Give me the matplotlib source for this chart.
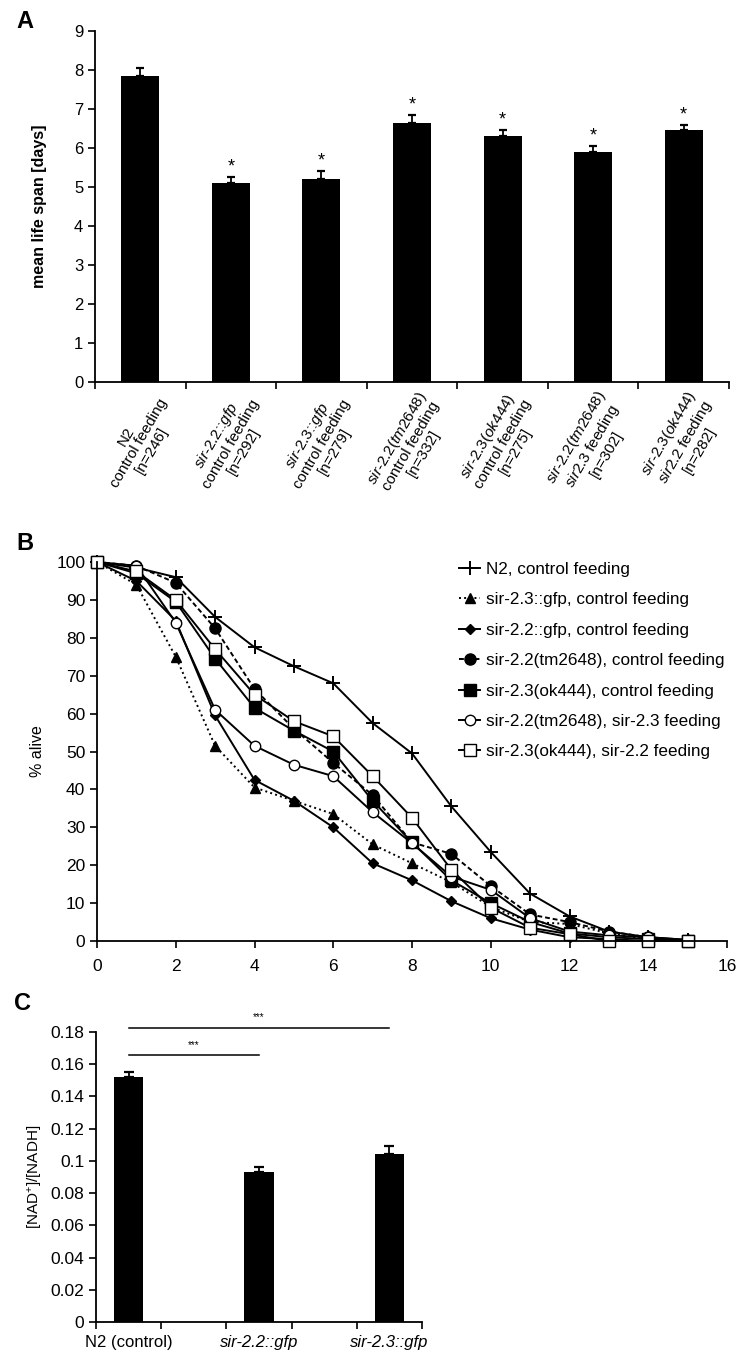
import matplotlib
matplotlib.use("Agg")
import matplotlib.pyplot as plt
import numpy as np

plt.rcParams['font.family'] = ['Liberation Sans', 'DejaVu Sans']
plt.rcParams['mathtext.fontset'] = 'custom'
plt.rcParams['mathtext.rm'] = 'Liberation Sans'
plt.rcParams['mathtext.it'] = 'Liberation Sans:italic'
plt.rcParams['mathtext.bf'] = 'Liberation Sans:bold'

# ---- panel A data ----
a_labels = [
    "N2\ncontrol feeding\n[n=246]",
    "$\\mathit{sir}$-$\\mathit{2.2}$::$\\mathit{gfp}$\ncontrol feeding\n[n=292]",
    "$\\mathit{sir}$-$\\mathit{2.3}$::$\\mathit{gfp}$\ncontrol feeding\n[n=279]",
    "$\\mathit{sir}$-$\\mathit{2.2(tm2648)}$\ncontrol feeding\n[n=332]",
    "$\\mathit{sir}$-$\\mathit{2.3(ok444)}$\ncontrol feeding\n[n=275]",
    "$\\mathit{sir}$-$\\mathit{2.2(tm2648)}$\n$\\mathit{sir2.3}$ feeding\n[n=302]",
    "$\\mathit{sir}$-$\\mathit{2.3(ok444)}$\n$\\mathit{sir2.2}$ feeding\n[n=282]",
]
a_mean = [7.85, 5.1, 5.2, 6.65, 6.3, 5.9, 6.45]
a_err = [0.2, 0.15, 0.2, 0.2, 0.15, 0.15, 0.15]
a_star = [False, True, True, True, True, True, True]

# ---- panel B data ----
days = list(range(16))
n2 = [100, 98.5, 96, 85.5, 77.5, 72.5, 68, 57.5, 49.5, 35.5, 23.5, 12.5, 6.5, 2.5, 1, 0.3]
gfp23 = [100, 94, 75, 51.5, 40.5, 37, 33.5, 25.5, 20.5, 15.5, 9, 5, 4.5, 2, 0.5, 0]
gfp22 = [100, 95, 84.5, 59.5, 42.5, 37, 30, 20.5, 16, 10.5, 6, 3, 1, 0.5, 0, 0]
tm_ctrl = [100, 99, 94.5, 82.5, 66.5, 56, 47, 38.5, 26, 23, 14.5, 7, 5, 2.5, 1, 0]
ok_ctrl = [100, 97, 89.5, 74.5, 61.5, 55.5, 50, 37, 26, 16, 10, 5, 2, 1, 0.5, 0]
tm_fed = [100, 99, 84, 61, 51.5, 46.5, 43.5, 34, 25.8, 17, 13.5, 6, 2.5, 1.5, 1, 0.3]
ok_fed = [100, 97.5, 90, 77, 65, 58, 54, 43.5, 32.5, 18.8, 8.8, 3.5, 1.8, 0, 0, 0]
b_names = ["N2, control feeding", "sir-2.3::gfp, control feeding",
           "sir-2.2::gfp, control feeding", "sir-2.2(tm2648), control feeding",
           "sir-2.3(ok444), control feeding", "sir-2.2(tm2648), sir-2.3 feeding",
           "sir-2.3(ok444), sir-2.2 feeding"]

# ---- panel C data ----
c_labels = ["N2 (control)", "sir-2.2::gfp", "sir-2.3::gfp"]
c_mean = [0.152, 0.093, 0.104]
c_err = [0.003, 0.0035, 0.0055]

W, H = 741, 1355
fig = plt.figure(figsize=(W / 100, H / 100), dpi=100)


def px(l, t, r, b):
    return [l / W, 1 - b / H, (r - l) / W, (b - t) / H]


def clean(a):
    for sp in ['top', 'right']:
        a.spines[sp].set_visible(False)
    for sp in ['left', 'bottom']:
        a.spines[sp].set_linewidth(1.3)


# ================= A =================
ax = fig.add_axes(px(95, 31, 729, 382))
xa = np.arange(len(a_mean)) + 0.5
ax.bar(xa, a_mean, width=0.42, color='black', zorder=2)
ax.errorbar(xa, a_mean, yerr=[np.zeros(len(a_err)), a_err], fmt='none',
            ecolor='black', elinewidth=1.3, capsize=3, capthick=1.6, zorder=3)
for x, m, e, s in zip(xa, a_mean, a_err, a_star):
    if s:
        ax.text(x, m + e + 0.04, "*", ha='center', va='bottom', fontsize=13)
ax.set_xlim(0, len(a_mean))
ax.set_ylim(0, 9)
ax.set_yticks(range(10))
ax.set_xticks(range(len(a_mean) + 1))
ax.set_xticklabels([])
for x, lab in zip(xa, a_labels):
    ax.annotate(lab, xy=(x + 0.26, 0), xycoords=('data', 'axes fraction'),
                xytext=(0, -13), textcoords='offset points',
                rotation=60, ha='right', va='center', rotation_mode='anchor',
                multialignment='center', fontsize=11, linespacing=1.05)
ax.set_ylabel("mean life span [days]", fontsize=11.5, fontweight='bold', labelpad=19)
ax.tick_params(axis='both', labelsize=12, direction='out', length=5, width=1.2)
clean(ax)
fig.text(16 / W, 1 - 22 / H, "A", fontsize=17, fontweight='bold', va='center')

# ================= B =================
bx = fig.add_axes(px(97, 562, 727, 941))
series = [n2, gfp23, gfp22, tm_ctrl, ok_ctrl, tm_fed, ok_fed]
styles = [
    dict(marker='+', ls='-', mfc='black', ms=10, mew=1.4),
    dict(marker='^', ls=':', mfc='black', ms=7),
    dict(marker='D', ls='-', mfc='black', ms=5.5),
    dict(marker='o', ls=(0, (2.5, 1.5)), mfc='black', ms=8),
    dict(marker='s', ls='-', mfc='black', ms=8),
    dict(marker='o', ls='-', mfc='white', ms=7.5),
    dict(marker='s', ls='-', mfc='white', ms=8.5),
]
for ys, name, st in zip(series, b_names, styles):
    bx.plot(days, ys, color='black', mec='black', lw=1.4, label=name,
            clip_on=False, **st)
bx.set_xlim(0, 16)
bx.set_ylim(0, 100)
bx.set_xticks(range(0, 17, 2))
bx.set_yticks(range(0, 101, 10))
bx.set_ylabel("% alive", fontsize=11.5, labelpad=8)
bx.tick_params(axis='both', labelsize=12.5, direction='out', length=5, width=1.2)
bx.tick_params(axis='x', pad=8)
clean(bx)
bx.legend(loc='upper left', bbox_to_anchor=(0.575, 1.0), frameon=False,
          fontsize=12.3, handlelength=1.2, handletextpad=0.35, labelspacing=0.9,
          borderaxespad=0, borderpad=0)
fig.text(16 / W, 1 - 543 / H, "B", fontsize=17, fontweight='bold', va='center')

# ================= C =================
cx = fig.add_axes(px(96, 1032, 422, 1322))
xc = np.array([0.5, 2.5, 4.5])
cx.bar(xc, c_mean, width=0.45, color='black', zorder=2)
cx.errorbar(xc, c_mean, yerr=[np.zeros(3), c_err], fmt='none', ecolor='black',
            elinewidth=1.3, capsize=3.5, capthick=1.6, zorder=3)
cx.set_xlim(0, 5)
cx.set_ylim(0, 0.18)
cx.set_yticks(np.arange(0, 0.181, 0.02))
cx.set_yticklabels(["0", "0.02", "0.04", "0.06", "0.08", "0.1", "0.12",
                    "0.14", "0.16", "0.18"])
cx.set_xticks(range(6))
cx.set_xticklabels([])
for x, lab in zip(xc, c_labels):
    cx.text(x, -0.0125, lab, ha='center', va='center', fontsize=12,
            fontstyle='normal' if lab.startswith("N2") else 'italic')
sig = [(xc[0], xc[1], 0.1655), (xc[0], xc[2], 0.1825)]
for x0, x1, y in sig:
    cx.plot([x0, x1], [y, y], color='black', lw=1.1, clip_on=False)
    cx.text((x0 + x1) / 2, y + 0.0065, "***", ha='center', va='center', fontsize=7)
cx.set_ylabel("[NAD$^{+}$]/[NADH]", fontsize=11, labelpad=4)
cx.tick_params(axis='both', labelsize=12.5, direction='out', length=5, width=1.2)
clean(cx)
fig.text(14 / W, 1 - 1003 / H, "C", fontsize=17, fontweight='bold', va='center')

fig.savefig("out.png", dpi=100)
